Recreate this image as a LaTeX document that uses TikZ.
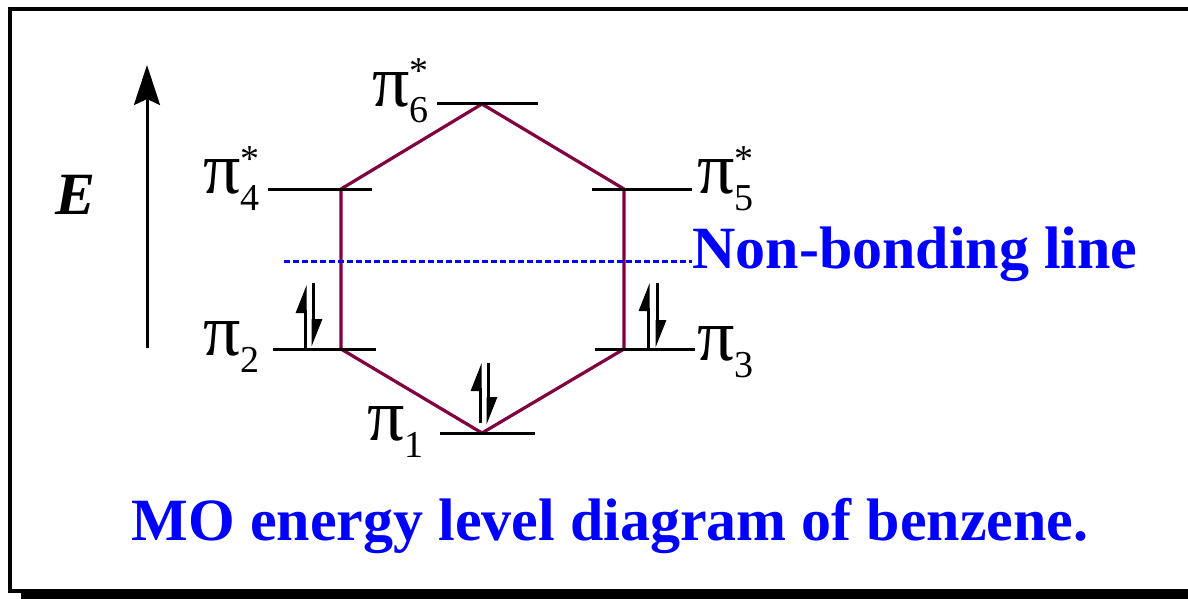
\documentclass[tikz,border=0pt]{standalone}
\usepackage{fontspec}
\setmainfont{Liberation Serif}
\usetikzlibrary{arrows.meta}
\definecolor{hexline}{RGB}{128,0,64}
\definecolor{nbblue}{RGB}{0,0,255}
% orbital label: pi, subscript, optional star above it
\newcommand{\orb}[2]{{\fontsize{37}{37}\selectfont π}{\fontsize{19}{19}\selectfont\rlap{\raisebox{11pt}{#2}}\raisebox{-8.5pt}{#1}}}
\tikzset{
  level/.style={line width=1.5pt},
  hexedge/.style={line width=1.6pt,hexline,line join=round},
  spin/.style={line width=1.5pt,-{Stealth[left,length=12pt,width=9pt,inset=0pt]}},
  orblabel/.style={inner sep=0pt,font=\fontsize{30}{30}\selectfont},
  bluetext/.style={inner sep=0pt,text=nbblue,font=\bfseries\fontsize{30}{30}\selectfont},
}
\begin{document}
\begin{tikzpicture}[x=0.5pt,y=-0.5pt]
  \useasboundingbox (0,0) rectangle (1188,599);
  \clip (0,0) rectangle (1188,599);
  % frame with shadow
  \fill (21,20) rectangle (1210,620);
  \draw[line width=2pt,fill=white] (10,9) rectangle (1210,591);
  % energy axis
  \coordinate (Ebot) at (147,348);
  \coordinate (Etop) at (147,65);
  \draw[line width=1.5pt,-{Stealth[length=20pt,width=13pt,inset=3pt]}] (Ebot) -- (Etop);
  \node[inner sep=0pt,font=\bfseries\itshape\fontsize{30}{30}\selectfont] (E) at (76,195) {E};
  % levels
  \foreach \name/\x/\y in {p1/482/433,p2/341/349,p3/624/349,p4/341/189,p5/624/189,p6/482/104}
    \coordinate (\name) at (\x,\y);
  \draw[hexedge] (p6) -- (p5) -- (p3) -- (p1) -- (p2) -- (p4) -- cycle;
  \foreach \name/\l/\r in {p1/42/53,p2/68/35,p3/29/71,p4/73/31,p5/32/68,p6/45/56}
    \draw[level] (\name) ++(-\l,0) -- ++(\l+\r,0);
  % labels
  \node[orblabel,anchor=base east] (l6) at (429,106) {\orb{6}{*}};
  \node[orblabel,anchor=base east] (l4) at (260,193) {\orb{4}{*}};
  \node[orblabel,anchor=base west] (l5) at (697,193) {\orb{5}{*}};
  \node[orblabel,anchor=base east] (l2) at (260,355) {\orb{2}{}};
  \node[orblabel,anchor=base west] (l3) at (697,360) {\orb{3}{}};
  \node[orblabel,anchor=base east] (l1) at (424,440) {\orb{1}{}};
  % electron pairs
  \draw[spin] (p2) ++(-36,-1) -- ++(0,-63);
  \draw[spin] (p2) ++(-28,-66) -- ++(0,64);
  \draw[spin] (p3) ++(24,-1) -- ++(0,-65);
  \draw[spin] (p3) ++(33,-66) -- ++(0,65);
  \draw[spin] (p1) ++(-2,-10) -- ++(0,-60);
  \draw[spin] (p1) ++(6,-70) -- ++(0,62);
  % non-bonding line
  \node[bluetext,anchor=base west] (nbl) at (692,268) {Non-bonding line};
  \coordinate (nbstart) at (284,261);
  \draw[nbblue,line width=1.5pt,dash pattern=on 3pt off 1.5pt] (nbstart) -- (nbstart -| nbl.west);
  % caption
  \node[bluetext,anchor=base] (title) at (610,540) {MO energy level diagram of benzene.};
\end{tikzpicture}
\end{document}
